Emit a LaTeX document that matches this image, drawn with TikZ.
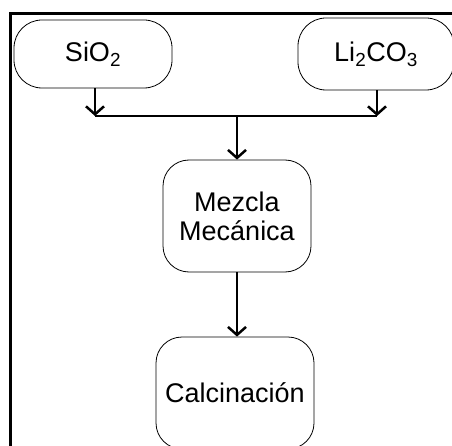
\documentclass[tikz,border=0pt]{standalone}
\usepackage{fontspec}
\setmainfont{Liberation Sans}
\usetikzlibrary{arrows.meta,positioning}

\begin{document}
\begin{tikzpicture}[
		x=1pt,y=-1pt,
		box/.style={draw,line width=0.8pt,rounded corners=#1,align=center,font=\fontsize{27}{29}\selectfont,inner sep=0pt},
		box/.default=28pt,
		flow/.style={line width=2.5pt,-{Straight Barb[length=8pt,width=18pt,line width=2.5pt]}},
		bar/.style={line width=2.5pt},
]

\def\frameW{3}
\def\joinY{116}

\useasboundingbox (0,0) rectangle (452,446);

% frame, open on the right and at the bottom
\draw [line width=\frameW pt] (10.5,470) -- (10.5,13.5) -- (480,13.5);

\node [box, minimum width=158pt, minimum height=68pt] (sio) at (93,54) {SiO\textsubscript{2}};
\node [box, minimum width=156pt, minimum height=72pt] (lico) at (376,54) {Li\textsubscript{2}CO\textsubscript{3}};
\node [box=26pt, minimum width=148pt, minimum height=112pt] (mezcla) at (237,216) {Mezcla\\Mecánica};
\node [box=26pt, minimum width=158pt, minimum height=112pt] (calc) at (235,393) {Calcinación};

\coordinate (joinL) at (95,\joinY);
\coordinate (joinR) at (377,\joinY);
\coordinate (joinM) at (237,\joinY);

\draw [flow] (sio.south -| joinL) -- (joinL);
\draw [flow] (lico.south -| joinR) -- (joinR);
\draw [bar] (joinL) -- (joinR);
\draw [flow] (joinM) -- (mezcla.north);
\draw [flow] (mezcla.south -| joinM) -- (calc.north -| joinM);

\end{tikzpicture}
\end{document}
